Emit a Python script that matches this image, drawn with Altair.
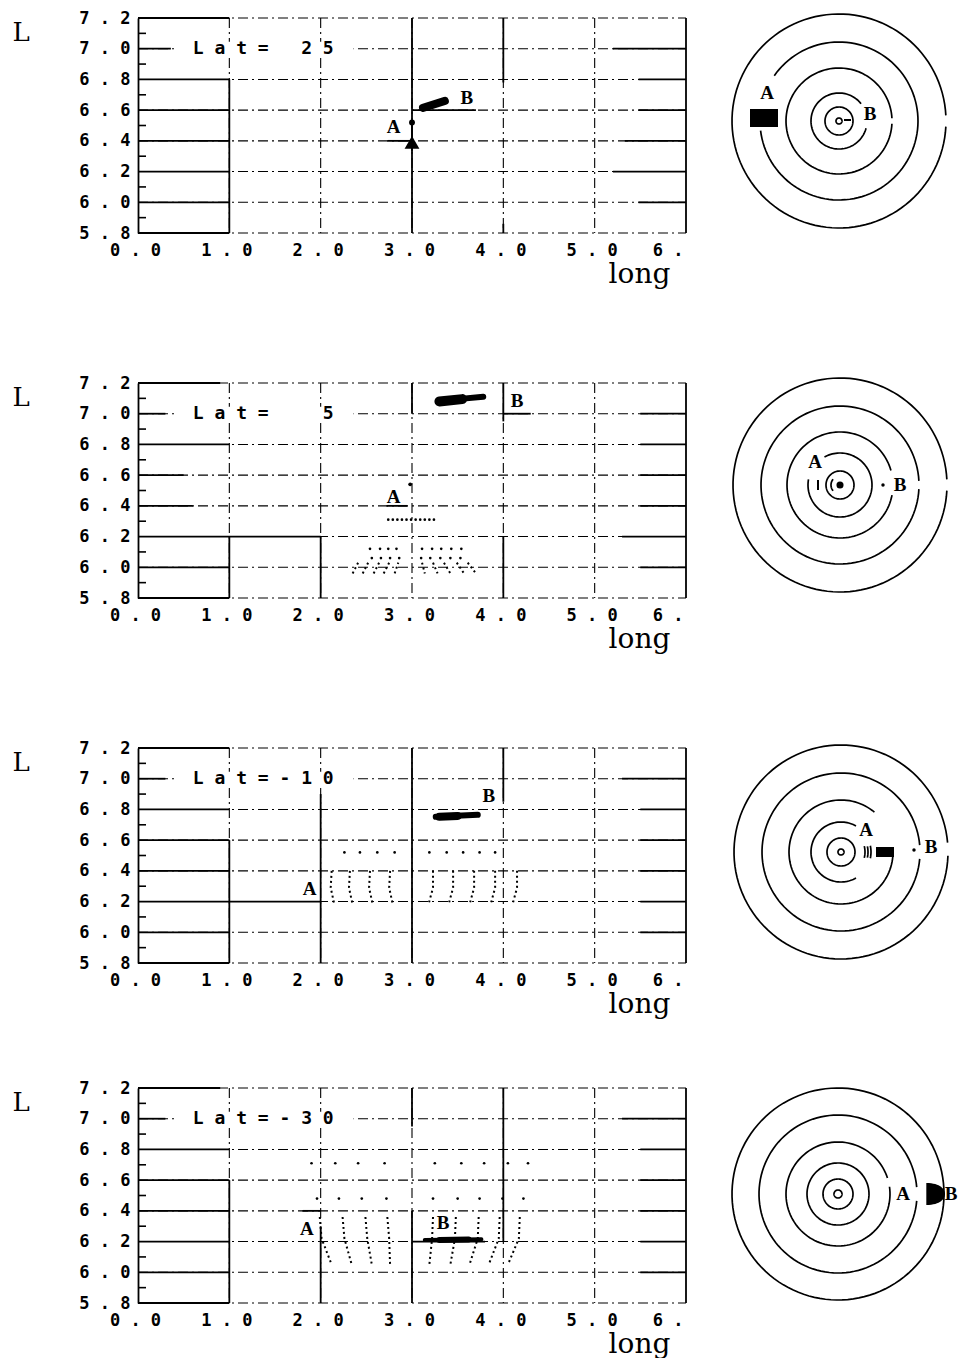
import altair as alt
import numpy as np
import pandas as pd

NB = "\u00a0"


def sp(s):
    return s.replace(" ", NB)


# ---------------- axis values ----------------
X_TICKS = [0, 1, 2, 3, 4, 5, 6]
X_GRID = [1, 2, 3, 4, 5]
Y_TICKS = [5.8, 6.0, 6.2, 6.4, 6.6, 6.8, 7.0, 7.2]
Y_MINOR = [5.9, 6.1, 6.3, 6.5, 6.7, 6.9, 7.1]

LAT_LABELS = ["L a t =   2 5", "L a t =     5", "L a t = - 1 0", "L a t = - 3 0"]

# ---------------- row 1 (Lat = 25) ----------------
R1_HSOLID = [(7.2, 0, 1.0), (7.0, 0, 0.36), (7.0, 5.2, 6), (6.8, 0, 1.0), (6.8, 5.48, 6),
             (6.6, 0, 1.0), (6.6, 3.0, 3.7), (6.6, 5.48, 6), (6.4, 0, 1.0), (6.4, 2.73, 3.0),
             (6.4, 5.33, 6), (6.2, 0, 1.0), (6.2, 5.2, 6), (6.0, 0, 1.0), (6.0, 5.48, 6),
             (5.8, 0, 1.0)]
R1_VSOLID = [(1.0, 5.8, 6.8), (3.0, 5.8, 7.2), (4.0, 6.78, 7.2), (4.0, 5.8, 5.86), (6.0, 5.8, 7.2)]
R1_TEXT = [("A", 2.8, 6.49), ("B", 3.6, 6.68)]
R1_STROKES = [(3.0, 6.34, 3.0, 6.52, 2), (3.12, 6.615, 3.36, 6.66, 8)]
R1_MARKS = [(3.0, 6.52, "circle", 35), (3.0, 6.39, "triangle-up", 220)]
R1_DOTS = []
R1_TRAJ = []

# ---------------- row 2 (Lat = 5) ----------------
R2_HSOLID = [(7.2, 0, 0.9), (7.0, 0, 0.3), (7.0, 4.0, 4.3), (7.0, 5.5, 6), (6.8, 0, 1.0),
             (6.8, 5.5, 6), (6.6, 0, 0.5), (6.6, 5.5, 6), (6.4, 0, 0.6), (6.4, 2.72, 2.95),
             (6.4, 5.5, 6), (6.2, 0, 2.0), (6.2, 5.3, 6), (6.0, 0, 1.0), (6.0, 5.5, 6),
             (5.8, 0, 1.0)]
R2_VSOLID = [(1.0, 5.8, 6.2), (2.0, 5.8, 6.2), (3.0, 7.0, 7.2), (4.0, 6.95, 7.2),
             (4.0, 5.8, 6.2), (6.0, 5.8, 7.2)]
R2_TEXT = [("A", 2.8, 6.46), ("B", 4.15, 7.08)]
R2_STROKES = [(3.30, 7.08, 3.55, 7.095, 10), (3.5, 7.095, 3.78, 7.11, 6)]
R2_MARKS = [(2.98, 6.54, "circle", 14)]
R2_DOTS = [(2.74, 6.31), (2.79, 6.31), (2.84, 6.31), (2.89, 6.31), (2.94, 6.31), (2.99, 6.31),
           (3.04, 6.31), (3.09, 6.31), (3.14, 6.31), (3.19, 6.31), (3.24, 6.31),
           (2.54, 6.12), (2.65, 6.12), (2.74, 6.12), (2.83, 6.12), (3.11, 6.12), (3.22, 6.12),
           (3.32, 6.12), (3.43, 6.12), (3.54, 6.12),
           (2.56, 6.06), (2.66, 6.06), (2.76, 6.06), (2.86, 6.06), (3.10, 6.06), (3.20, 6.06),
           (3.31, 6.06), (3.42, 6.06), (3.53, 6.06)]
R2_TRAJ = [[(2.35, 5.96), (2.41, 6.03)], [(2.46, 5.96), (2.52, 6.03)],
           [(2.58, 5.96), (2.64, 6.03)], [(2.69, 5.96), (2.75, 6.03)],
           [(2.81, 5.96), (2.85, 6.03)], [(3.11, 6.03), (3.14, 5.96)],
           [(3.23, 6.03), (3.28, 5.96)], [(3.35, 6.03), (3.42, 5.96)],
           [(3.49, 6.03), (3.57, 5.96)], [(3.61, 6.03), (3.70, 5.96)]]

# ---------------- row 3 (Lat = -10) ----------------
R3_HSOLID = [(7.2, 0, 1.0), (7.0, 0, 0.3), (7.0, 5.3, 6), (6.8, 0, 1.0), (6.8, 5.5, 6),
             (6.6, 0, 1.0), (6.6, 5.5, 6), (6.4, 0, 1.0), (6.4, 5.5, 6), (6.2, 0, 2.0),
             (6.2, 5.5, 6), (6.0, 0, 1.0), (6.0, 5.5, 6), (5.8, 0, 1.0)]
R3_VSOLID = [(1.0, 5.8, 6.6), (2.0, 5.8, 6.9), (3.0, 5.8, 7.2), (4.0, 6.85, 7.2), (6.0, 5.8, 7.2)]
R3_TEXT = [("A", 1.88, 6.28), ("B", 3.84, 6.89)]
R3_STROKES = [(3.26, 6.752, 3.72, 6.765, 6), (3.3, 6.752, 3.5, 6.757, 8)]
R3_MARKS = []
R3_DOTS = [(2.26, 6.52), (2.43, 6.52), (2.62, 6.52), (2.81, 6.52), (3.19, 6.52),
           (3.38, 6.52), (3.56, 6.52), (3.74, 6.52), (3.91, 6.52)]
R3_TRAJ = [[(2.12, 6.40), (2.11, 6.29), (2.15, 6.18)], [(2.32, 6.40), (2.31, 6.29), (2.35, 6.18)],
           [(2.54, 6.40), (2.53, 6.29), (2.57, 6.18)], [(2.76, 6.40), (2.75, 6.29), (2.79, 6.18)],
           [(3.23, 6.40), (3.23, 6.29), (3.18, 6.18)], [(3.45, 6.40), (3.45, 6.29), (3.40, 6.18)],
           [(3.68, 6.40), (3.68, 6.29), (3.63, 6.18)], [(3.91, 6.40), (3.91, 6.29), (3.86, 6.18)],
           [(4.15, 6.40), (4.15, 6.29), (4.10, 6.18)]]

# ---------------- row 4 (Lat = -30) ----------------
R4_HSOLID = [(7.2, 0, 0.9), (7.0, 0, 0.3), (7.0, 5.3, 6), (6.8, 0, 1.0), (6.8, 5.5, 6),
             (6.6, 0, 1.0), (6.6, 5.5, 6), (6.4, 0, 1.0), (6.4, 1.8, 2.0), (6.4, 5.5, 6),
             (6.2, 0, 1.0), (6.2, 3.0, 3.8), (6.2, 5.5, 6), (6.0, 0, 1.0), (6.0, 5.5, 6),
             (5.8, 0, 1.0)]
R4_VSOLID = [(1.0, 5.8, 6.6), (2.0, 5.8, 6.3), (3.0, 6.95, 7.2), (3.0, 5.8, 6.4),
             (4.0, 6.2, 7.2), (6.0, 5.8, 7.2)]
R4_TEXT = [("A", 1.85, 6.28), ("B", 3.34, 6.32)]
R4_STROKES = [(3.14, 6.21, 3.76, 6.215, 4), (3.3, 6.21, 3.62, 6.213, 6)]
R4_MARKS = []
R4_DOTS = [(1.90, 6.71), (2.16, 6.71), (2.41, 6.71), (2.70, 6.71), (3.25, 6.71), (3.54, 6.71),
           (3.79, 6.71), (4.05, 6.71), (4.27, 6.71),
           (1.96, 6.48), (2.20, 6.48), (2.45, 6.48), (2.72, 6.48), (3.23, 6.48), (3.50, 6.48),
           (3.74, 6.48), (3.99, 6.48), (4.22, 6.48)]
R4_TRAJ = [[(1.99, 6.36), (2.01, 6.22), (2.12, 6.05)], [(2.24, 6.36), (2.26, 6.22), (2.34, 6.05)],
           [(2.49, 6.36), (2.51, 6.22), (2.56, 6.05)], [(2.73, 6.36), (2.75, 6.22), (2.76, 6.05)],
           [(3.23, 6.36), (3.22, 6.22), (3.19, 6.05)], [(3.48, 6.36), (3.47, 6.22), (3.42, 6.05)],
           [(3.73, 6.36), (3.72, 6.22), (3.63, 6.05)], [(3.96, 6.36), (3.95, 6.22), (3.84, 6.05)],
           [(4.18, 6.36), (4.17, 6.22), (4.05, 6.05)]]

# ---------------- circle diagrams (radius, start deg, end deg) ----------------
C1_ARCS = [(107, 3, 357), (79, -173, 145), (53, 3, 357), (28, 38, 345), (14, 0, 360), (3, 0, 360)]
C1_RECTS = [(-89, -61, -6, 12)]
C1_SEGS = [(5, 1, 12, 1)]
C1_MARKS = []
C1_TEXT = [("A", -72, 28), ("B", 31, 7)]

C2_ARCS = [(107, 3, 357), (79, 3, 357), (53, 16, 349), (32, -190, 119), (14, 0, 360),
           (9, 140, 220)]
C2_RECTS = []
C2_SEGS = [(-22, -5, -22, 5)]
C2_MARKS = [(0, 0, "circle", 50), (43, 0, "circle", 12)]
C2_TEXT = [("A", -25, 23), ("B", 60, 0)]

C3_ARCS = [(107, 5, 358), (79, 5, 355), (52, 50, 355), (30, 60, 300), (14, 0, 360), (3, 0, 360),
           (24, -14, 14), (27, -12, 12), (30, -12, 12)]
C3_RECTS = [(35, 53, -5, 5)]
C3_SEGS = []
C3_MARKS = [(73, 2, "circle", 12)]
C3_TEXT = [("A", 25, 22), ("B", 90, 5)]

C4_ARCS = [(106, 0, 360), (79, 5, 355), (52, 18, 368), (31, 0, 360), (15, 0, 360), (4, 0, 360)]
C4_RECTS = []
C4_SEGS = [(104, 0, 107, 0)]
C4_MARKS = [(96, 0, "M -0.7 -1 C 0.6 -1 1 -0.4 1 0 C 1 0.4 0.6 1 -0.7 1 Z", 484)]
C4_TEXT = [("A", 65, 0), ("B", 113, 0)]

# ---------------- styling ----------------
XS = alt.Scale(domain=[0, 6], nice=False, zero=False)
YS = alt.Scale(domain=[5.8, 7.2], nice=False, zero=False)
TICK_FONT = "DejaVu Sans Mono"
SERIF = "DejaVu Serif"
LBL_FONT = "Liberation Serif"
DASH = [10, 4, 2, 4]

X_LABEL_EXPR = ("datum.value == 6 ? '6" + NB + ".' : replace(format(datum.value, '.1f'), '.', '"
                + NB + "." + NB + "')")
Y_LABEL_EXPR = "replace(format(datum.value, '.1f'), '.', '" + NB + "." + NB + "')"

X_AXIS = alt.Axis(values=X_TICKS, labelExpr=X_LABEL_EXPR, grid=False, domain=False, ticks=False,
                  labelFont=TICK_FONT, labelFontSize=17, labelFontWeight="bold", labelColor="black",
                  labelPadding=9, labelOffset=-3, labelFlush=False, labelOverlap=False,
                  labelAlign={"condition": {"test": "datum.value == 6", "value": "right"},
                              "value": "center"},
                  title="long", titleFont=SERIF, titleFontSize=28, titleFontWeight="normal",
                  titleColor="black", titleX=501, titleY=49, titleAlign="center",
                  titleBaseline="alphabetic")
Y_AXIS = alt.Axis(values=Y_TICKS, labelExpr=Y_LABEL_EXPR, grid=False, domain=True,
                  domainColor="black", domainWidth=1.8, ticks=False,
                  labelFont=TICK_FONT, labelFontSize=17, labelFontWeight="bold", labelColor="black",
                  labelPadding=8, labelFlush=False, labelOverlap=False,
                  title="L", titleFont=SERIF, titleFontSize=26, titleFontWeight="normal",
                  titleColor="black", titleAngle=0, titleX=-126, titleY=22, titleAlign="left",
                  titleBaseline="alphabetic")


def xq(field="x"):
    return alt.X(f"{field}:Q", scale=XS, axis=X_AXIS)


def yq(field="y"):
    return alt.Y(f"{field}:Q", scale=YS, axis=Y_AXIS)


def left_panel(lat, hsolid, vsolid, texts, strokes, marks, dots, trajs):
    frame = alt.Chart(pd.DataFrame({"x": [0, 6], "y": [5.8, 7.2]})).mark_point(
        opacity=0, size=1).encode(x=xq(), y=yq())

    gh = alt.Chart(pd.DataFrame({"y": Y_TICKS})).mark_rule(
        color="black", strokeWidth=1.1, strokeDash=DASH).encode(
        y=yq(), x=alt.value(0), x2=alt.value(548))
    gv = alt.Chart(pd.DataFrame({"x": X_GRID})).mark_rule(
        color="black", strokeWidth=1.1, strokeDash=DASH).encode(
        x=xq(), y=alt.value(0), y2=alt.value(215))
    minor = alt.Chart(pd.DataFrame({"y": Y_MINOR})).mark_rule(
        color="black", strokeWidth=1.6).encode(y=yq(), x=alt.value(0), x2=alt.value(8))

    hs = pd.DataFrame(hsolid, columns=["y", "x", "x2"])
    hsl = alt.Chart(hs).mark_rule(color="black", strokeWidth=1.8).encode(
        y=yq(), x=xq(), x2="x2:Q")
    vs = pd.DataFrame(vsolid, columns=["x", "y", "y2"])
    vsl = alt.Chart(vs).mark_rule(color="black", strokeWidth=1.8).encode(
        x=xq(), y=yq(), y2="y2:Q")

    bg = alt.Chart(pd.DataFrame({"x": [0.42], "x2": [2.36], "y": [6.955], "y2": [7.045]})).mark_rect(
        color="white").encode(x=xq(), x2="x2:Q", y=yq(), y2="y2:Q")
    lat_t = alt.Chart(pd.DataFrame({"x": [0.6], "y": [7.0], "t": [sp(lat)]})).mark_text(
        font=TICK_FONT, fontSize=18, fontWeight="bold", align="left", baseline="middle",
        color="black").encode(x=xq(), y=yq(), text="t:N")

    layers = [frame, gh, gv, hsl, vsl, minor, bg, lat_t]

    if trajs:
        rows = []
        for i, tr in enumerate(trajs):
            for k, (x, y) in enumerate(tr):
                rows.append({"id": i, "k": k, "x": x, "y": y})
        layers.append(alt.Chart(pd.DataFrame(rows)).mark_line(
            color="black", strokeWidth=2, strokeDash=[2, 3]).encode(
            x=xq(), y=yq(), detail="id:N", order="k:Q"))
    if dots:
        layers.append(alt.Chart(pd.DataFrame(dots, columns=["x", "y"])).mark_circle(
            color="black", size=7, opacity=1).encode(x=xq(), y=yq()))
    if strokes:
        srows = []
        for i, (x1, y1, x2, y2, w) in enumerate(strokes):
            srows.append({"id": i, "k": 0, "x": x1, "y": y1, "w": w})
            srows.append({"id": i, "k": 1, "x": x2, "y": y2, "w": w})
        layers.append(alt.Chart(pd.DataFrame(srows)).mark_line(
            color="black", strokeCap="round").encode(
            x=xq(), y=yq(), detail="id:N", order="k:Q",
            strokeWidth=alt.StrokeWidth("w:Q", scale=None)))
    if marks:
        layers.append(alt.Chart(pd.DataFrame(marks, columns=["x", "y", "shape", "size"])).mark_point(
            filled=True, color="black", opacity=1).encode(
            x=xq(), y=yq(), shape=alt.Shape("shape:N", scale=None),
            size=alt.Size("size:Q", scale=None)))
    layers.append(alt.Chart(pd.DataFrame(texts, columns=["t", "x", "y"])).mark_text(
        font=LBL_FONT, fontSize=19, fontWeight="bold", color="black", baseline="middle",
        align="center").encode(x=xq(), y=yq(), text="t:N"))

    return alt.layer(*layers).properties(width=548, height=215)


def circle_panel(arcs, rects, segs, marks, texts, dx, dy):
    # dx > 0 moves the centre right, dy < 0 moves it up (in pixels of the 224 px box)
    xs = alt.Scale(domain=[-(112 + dx), 112 - dx], nice=False, zero=False)
    ys = alt.Scale(domain=[-(112 - dy), 112 + dy], nice=False, zero=False)
    rows = []
    for i, (r, a0, a1) in enumerate(arcs):
        n = max(8, int(abs(a1 - a0) / 3))
        ang = np.radians(np.linspace(a0, a1, n))
        for k, a in enumerate(ang):
            rows.append({"arc": i, "k": k, "x": r * np.cos(a), "y": r * np.sin(a)})
    cx = alt.X("x:Q", scale=xs, axis=None)
    cy = alt.Y("y:Q", scale=ys, axis=None)
    layers = [alt.Chart(pd.DataFrame(rows)).mark_line(color="black", strokeWidth=1.7).encode(
        x=cx, y=cy, detail="arc:N", order="k:Q")]
    if rects:
        layers.append(alt.Chart(pd.DataFrame(rects, columns=["x", "x2", "y", "y2"])).mark_rect(
            color="black").encode(x=cx, x2="x2:Q", y=cy, y2="y2:Q"))
    if segs:
        layers.append(alt.Chart(pd.DataFrame(segs, columns=["x", "y", "x2", "y2"])).mark_rule(
            color="black", strokeWidth=2).encode(x=cx, y=cy, x2="x2:Q", y2="y2:Q"))
    if marks:
        layers.append(alt.Chart(pd.DataFrame(marks, columns=["x", "y", "shape", "size"])).mark_point(
            filled=True, color="black", opacity=1).encode(
            x=cx, y=cy, shape=alt.Shape("shape:N", scale=None), size=alt.Size("size:Q", scale=None)))
    layers.append(alt.Chart(pd.DataFrame(texts, columns=["t", "x", "y"])).mark_text(
        font=LBL_FONT, fontSize=19, fontWeight="bold", color="black", baseline="middle",
        align="center").encode(x=cx, y=cy, text="t:N"))
    return alt.layer(*layers).properties(width=224, height=224)


L1 = left_panel(LAT_LABELS[0], R1_HSOLID, R1_VSOLID, R1_TEXT, R1_STROKES, R1_MARKS, R1_DOTS, R1_TRAJ)
L2 = left_panel(LAT_LABELS[1], R2_HSOLID, R2_VSOLID, R2_TEXT, R2_STROKES, R2_MARKS, R2_DOTS, R2_TRAJ)
L3 = left_panel(LAT_LABELS[2], R3_HSOLID, R3_VSOLID, R3_TEXT, R3_STROKES, R3_MARKS, R3_DOTS, R3_TRAJ)
L4 = left_panel(LAT_LABELS[3], R4_HSOLID, R4_VSOLID, R4_TEXT, R4_STROKES, R4_MARKS, R4_DOTS, R4_TRAJ)

C1 = circle_panel(C1_ARCS, C1_RECTS, C1_SEGS, C1_MARKS, C1_TEXT, 13, -9)
C2 = circle_panel(C2_ARCS, C2_RECTS, C2_SEGS, C2_MARKS, C2_TEXT, 14, -10)
C3 = circle_panel(C3_ARCS, C3_RECTS, C3_SEGS, C3_MARKS, C3_TEXT, 15, -8)
C4 = circle_panel(C4_ARCS, C4_RECTS, C4_SEGS, C4_MARKS, C4_TEXT, 12, -6)

ROW_GAP = 27
rows = [alt.hconcat(L, C, spacing=ROW_GAP) for L, C in [(L1, C1), (L2, C2), (L3, C3), (L4, C4)]]

chart = alt.vconcat(
    alt.vconcat(rows[0], rows[1], rows[2], spacing=86),
    rows[3],
    spacing=61,
).properties(
    padding={"left": 4, "top": 1, "right": 0, "bottom": 0},
    background="white",
).configure_view(stroke=None)

chart.save("out.html", embed_options={"renderer": "svg", "actions": False})
